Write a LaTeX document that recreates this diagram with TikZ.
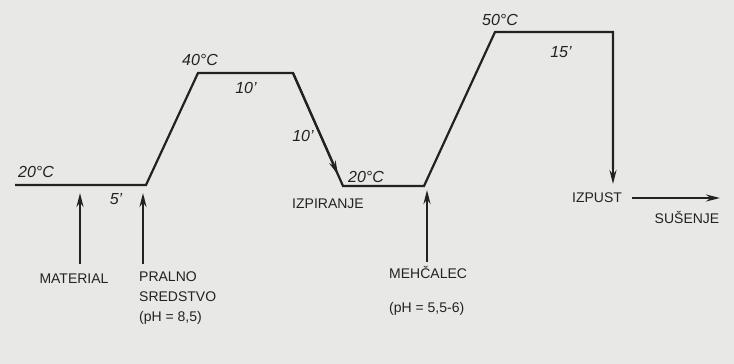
\documentclass[tikz,border=0pt]{standalone}
\usepackage{fontspec}
\setmainfont{Liberation Sans}
\usetikzlibrary{arrows.meta,calc}
\definecolor{paper}{HTML}{E8E8E6}
\definecolor{ink}{HTML}{222222}
\tikzset{
  curve/.style={draw=ink,line width=2.2pt,line join=miter},
  arr/.style={draw=ink,line width=2.2pt,-{Stealth[length=14pt,width=7pt]}},
  lbl/.style={text=ink,inner sep=0pt,font=\fontsize{14}{17}\selectfont},
  tlbl/.style={lbl,font=\fontsize{16}{18}\selectfont\itshape},
}
\begin{document}
\begin{tikzpicture}[x=1pt,y=-1pt]
\fill[paper] (0,0) rectangle (734,364);
\useasboundingbox (0,0) rectangle (734,364);
% profile points
\coordinate (p0) at (15,185);
\coordinate (p1) at (146,185);
\coordinate (p2) at (198,73);
\coordinate (p3) at (293,73);
\coordinate (p4) at (343,186);
\coordinate (p5) at (424,186);
\coordinate (p6) at (495,32);
\coordinate (p7) at (613,32);
\coordinate (p8) at (613,184);
\draw[curve] (p0) -- (p1) -- (p2) -- (p3) -- (p4) -- (p5) -- (p6) -- (p7) -- ($(p7)!0.9!(p8)$);
\draw[arr] (p3) -- ($(p3)!0.9!(p4)$);
\draw[arr] (p7) -- (p8);
% temperature / time labels
\node[tlbl] (t20a) at (36,172) {20°C};
\node[tlbl] (t40) at (200,60) {40°C};
\node[tlbl] (t50) at (500,20) {50°C};
\node[tlbl] (t20b) at (366,177) {20°C};
\node[tlbl] (m5) at (116,199) {5'};
\node[tlbl] (m10a) at (246,88) {10'};
\node[tlbl] (m10b) at (303,136) {10'};
\node[tlbl] (m15) at (561,52) {15'};
% process labels
\node[lbl] (izp) at (328,204) {IZPIRANJE};
\node[lbl] (izpust) at (597,198) {IZPUST};
\node[lbl] (sus) at (687,217) {SUŠENJE};
\coordinate (sStart) at (632,198);
\coordinate (sEnd) at (720,198);
\draw[arr] (sStart) -- (sEnd);
% additions
\node[lbl] (mat) at (74,279) {MATERIAL};
\node[lbl,align=left,anchor=north west] (pral) at (139,272) {PRALNO\\[3pt]SREDSTVO\\[3pt](pH = 8,5)};
\node[lbl,align=left,anchor=north west] (meh) at (389,266) {MEHČALEC\\[17pt](pH = 5,5-6)};
\coordinate (aMat) at (80,193);
\coordinate (aPral) at (143,193);
\coordinate (aMeh) at (427,190);
\draw[arr] (80,264) -- (aMat);
\draw[arr] (143,264) -- (aPral);
\draw[arr] (427,262) -- (aMeh);
\end{tikzpicture}
\end{document}
